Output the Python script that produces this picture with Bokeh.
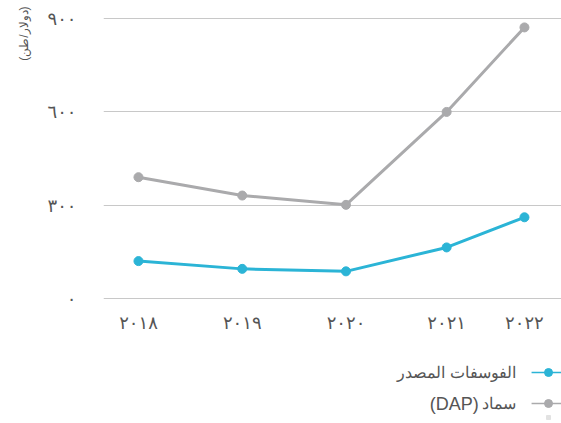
from bokeh.plotting import figure
from bokeh.models import FixedTicker, Title, Range1d, ColumnDataSource
from bokeh.layouts import column
from bokeh.embed import file_html
from bokeh.resources import INLINE
from bokeh.core.properties import value

# ---- data ----
years = [2018, 2019, 2020, 2020.97, 2021.72]          # x positions
year_labels = ["٢٠١٨", "٢٠١٩", "٢٠٢٠", "٢٠٢١", "٢٠٢٢"]
phosphate = [120, 95, 87, 164, 261]                  # الفوسفات المصدر
dap = [390, 331, 301, 600, 872]                      # سماد (DAP)
y_ticks = [0, 300, 600, 900]
y_tick_labels = ["٠", "٣٠٠", "٦٠٠", "٩٠٠"]
series_names = ["الفوسفات المصدر", "سماد (DAP)"]
unit_label = "(دولار/طن)"

RLE, PDF = "\u202b", "\u202c"
BLUE = "#2bb4d6"
GRAY = "#aaaaac"
TEXT = "#555555"
FONT = "Liberation Sans"

p = figure(width=561, height=348, output_backend="svg", toolbar_location=None,
           x_range=Range1d(2017.663, 2022.077), y_range=Range1d(-10, 920),
           min_border_left=102, min_border_right=0, min_border_top=12, min_border_bottom=47)
p.outline_line_color = None
p.xgrid.grid_line_color = None
p.ygrid.grid_line_color = "#c8c8c8"
p.ygrid.grid_line_width = 1

p.yaxis.ticker = FixedTicker(ticks=y_ticks)
p.yaxis.major_label_overrides = {t: l for t, l in zip(y_ticks, y_tick_labels)}
p.xaxis.ticker = FixedTicker(ticks=years)
p.xaxis.major_label_overrides = {t: l for t, l in zip(years, year_labels)}
for ax in (p.xaxis, p.yaxis):
    ax.axis_line_color = None
    ax.major_tick_line_color = None
    ax.minor_tick_line_color = None
    ax.major_label_text_color = TEXT
    ax.major_label_text_font = "DejaVu Sans"
    ax.major_label_text_font_size = "18px"
p.xaxis.major_label_standoff = 4
p.yaxis.major_label_standoff = 21

src = ColumnDataSource(dict(x=years, a=phosphate, b=dap))
p.line("x", "b", source=src, color=GRAY, line_width=3)
p.scatter("x", "b", source=src, color=GRAY, size=9)
p.line("x", "a", source=src, color=BLUE, line_width=3)
p.scatter("x", "a", source=src, color=BLUE, size=9)

p.add_layout(Title(text=RLE + unit_label + PDF, align="right", text_font=FONT,
                   text_font_size="12px", text_color=TEXT, text_font_style="normal",
                   standoff=28, offset=-6), "left")

# ---- legend (glyph on the right, RTL); frame mapped 1:1 to canvas pixels ----
lg = figure(width=561, height=75, output_backend="svg", toolbar_location=None,
            x_range=Range1d(102, 561), y_range=Range1d(75, 0),
            min_border_left=102, min_border_right=0, min_border_top=0, min_border_bottom=0)
lg.axis.visible = False
lg.grid.visible = False
lg.outline_line_color = None
rows = [24, 55]
colors = [BLUE, GRAY]
lg.segment(x0=[531, 531], y0=rows, x1=[561, 561], y1=rows, color=colors, line_width=1.5)
lg.scatter(x=[548, 548], y=rows, color=colors, size=8)
lg.scatter(x=[548], y=[69], marker="square", size=4, color="#e2e2e2")

arabic_parts, latin_parts, latin_rows = [], [], []
for name, r in zip(series_names, rows):
    if "(" in name:
        ar, la = name.split(" (", 1)
        arabic_parts.append(ar)
        latin_parts.append("(" + la)
        latin_rows.append(r)
    else:
        arabic_parts.append(name)
lg.text(x=[515] * len(rows), y=rows, text=arabic_parts,
        text_align="right", text_baseline="middle",
        text_font=value(FONT), text_font_size="16px", text_color=TEXT)
lg.text(x=[478] * len(latin_rows), y=latin_rows, text=latin_parts,
        text_align="right", text_baseline="middle",
        text_font=value(FONT), text_font_size="18px", text_color=TEXT)

layout = column(p, lg, spacing=0)
open("out.html", "w").write(file_html(layout, INLINE))
